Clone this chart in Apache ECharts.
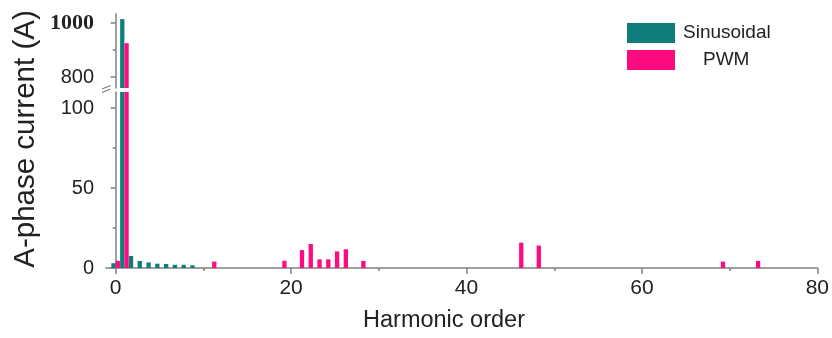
<!DOCTYPE html>
<html>
<head>
<meta charset="utf-8">
<script src="https://cdn.jsdelivr.net/npm/echarts@6/dist/echarts.min.js"></script>
<style>
  html, body { margin: 0; padding: 0; background: #fff; }
  #chart { width: 832px; height: 338px; }
</style>
</head>
<body>
<div id="chart"></div>
<script>
// Harmonic spectrum of the A-phase current, sinusoidal vs PWM supply
const sinHarmonics = [0, 1, 2, 3, 4, 5, 6, 7, 8, 9];
const sinValues    = [3, 1015, 7.5, 4.4, 3.5, 2.7, 2.5, 2, 2, 1.7];

const pwmHarmonics = [0, 1, 11, 19, 21, 22, 23, 24, 25, 26, 28, 46, 48, 69, 73];
const pwmValues    = [4.5, 926, 4, 4.5, 11.2, 15, 5.4, 5.4, 10.4, 11.7, 4.4, 15.8, 14, 4, 4.4];

const xTicks      = [0, 20, 40, 60, 80];
const xMinorTicks = [10, 30, 50, 70];
const lowerTicks      = [0, 50, 100];
const lowerMinorTicks = [25, 75];
const upperTicks      = [800, 1000];
const upperMinorTicks = [900];

const TEAL = '#0f7d79';
const PINK = '#ff0a80';
const AXIS = '#808080';
const TEXT = '#222';
const FONT = 'Liberation Sans, Arial, sans-serif';

const sinData = sinHarmonics.map((h, i) => [h, sinValues[i]]);
const pwmData = pwmHarmonics.map((h, i) => [h, pwmValues[i]]);

// layout of the two stacked panels that form the broken value axis
const LEFT = 106, RIGHT = 14.5;
const lowerGrid = { left: LEFT, right: RIGHT, top: 92, height: 176 };
const upperGrid = { left: LEFT, right: RIGHT, top: 14, height: 74 };
const X_MIN = -1.1, X_MAX = 80;

function xAxisBase(gridIndex) {
  return { type: 'value', gridIndex, min: X_MIN, max: X_MAX, splitLine: { show: false } };
}

const chart = echarts.init(document.getElementById('chart'), null, { renderer: 'canvas' });

const option = {
  animation: false,
  backgroundColor: '#fff',
  grid: [lowerGrid, upperGrid, Object.assign({}, lowerGrid), Object.assign({}, upperGrid)],
  legend: [
    {
      data: ['Sinusoidal'], left: 622, top: 18, icon: 'rect',
      itemWidth: 48, itemHeight: 20, selectedMode: false,
      textStyle: { fontSize: 19, color: TEXT, fontFamily: FONT, padding: [0, 0, 0, 3] }
    },
    {
      data: ['PWM'], left: 622, top: 45, icon: 'rect',
      itemWidth: 48, itemHeight: 20, selectedMode: false,
      textStyle: { fontSize: 19, color: TEXT, fontFamily: FONT, padding: [0, 0, 0, 23] }
    }
  ],
  xAxis: [
    Object.assign(xAxisBase(0), {
      axisLine: { show: true, lineStyle: { color: AXIS, width: 1.5 } },
      axisTick: { show: true, length: 6, inside: false, customValues: xTicks, lineStyle: { color: AXIS, width: 1.5 } },
      axisLabel: { show: true, customValues: xTicks, margin: 10, fontSize: 21, color: TEXT, fontFamily: FONT }
    }),
    Object.assign(xAxisBase(1), { show: false }),
    Object.assign(xAxisBase(2), {
      axisLine: { show: false },
      axisTick: { show: true, length: 3, customValues: xMinorTicks, lineStyle: { color: AXIS, width: 1.5 } },
      axisLabel: { show: false }
    }),
    Object.assign(xAxisBase(3), { show: false })
  ],
  yAxis: [
    {
      type: 'value', gridIndex: 0, min: 0, max: 110, splitLine: { show: false },
      axisLine: { show: true, lineStyle: { color: AXIS, width: 1.5 } },
      axisTick: { show: true, length: 5, customValues: lowerTicks, lineStyle: { color: AXIS, width: 1.5 } },
      axisLabel: { customValues: lowerTicks, margin: 12, fontSize: 20, color: TEXT, fontFamily: FONT }
    },
    {
      type: 'value', gridIndex: 1, min: 760, max: 1034, splitLine: { show: false },
      axisLine: { show: true, lineStyle: { color: AXIS, width: 1.5 } },
      axisTick: { show: true, length: 5, customValues: upperTicks, lineStyle: { color: AXIS, width: 1.5 } },
      axisLabel: {
        customValues: upperTicks, margin: 12, fontSize: 20, color: TEXT, fontFamily: FONT,
        formatter: v => (v === 1000 ? '{serif|' + v + '}' : String(v)),
        rich: { serif: { fontFamily: 'Liberation Serif, Times New Roman, serif', fontWeight: 'bold', fontSize: 22, color: TEXT } }
      }
    },
    {
      type: 'value', gridIndex: 2, min: 0, max: 110, splitLine: { show: false },
      axisLine: { show: false },
      axisTick: { show: true, length: 3, customValues: lowerMinorTicks, lineStyle: { color: AXIS, width: 1.5 } },
      axisLabel: { show: false }
    },
    {
      type: 'value', gridIndex: 3, min: 760, max: 1034, splitLine: { show: false },
      axisLine: { show: false },
      axisTick: { show: true, length: 3, customValues: upperMinorTicks, lineStyle: { color: AXIS, width: 1.5 } },
      axisLabel: { show: false }
    }
  ],
  series: [
    { name: 'Sinusoidal', type: 'bar', xAxisIndex: 0, yAxisIndex: 0, data: sinData, barWidth: 4.3, barGap: '0%', clip: true, itemStyle: { color: TEAL } },
    { name: 'PWM',        type: 'bar', xAxisIndex: 0, yAxisIndex: 0, data: pwmData, barWidth: 4.3, barGap: '0%', clip: true, itemStyle: { color: PINK } },
    { name: 'Sinusoidal', type: 'bar', xAxisIndex: 1, yAxisIndex: 1, data: sinData, barWidth: 4.3, barGap: '0%', clip: true, itemStyle: { color: TEAL } },
    { name: 'PWM',        type: 'bar', xAxisIndex: 1, yAxisIndex: 1, data: pwmData, barWidth: 4.3, barGap: '0%', clip: true, itemStyle: { color: PINK } }
  ],
  graphic: [
    // axis titles
    {
      type: 'text', x: 26, y: 139, rotation: Math.PI / 2,
      style: { text: 'A-phase current (A)', fontSize: 29.5, fontFamily: FONT, fill: TEXT, align: 'center', verticalAlign: 'middle' }
    },
    {
      type: 'text', x: 444, y: 321,
      style: { text: 'Harmonic order', fontSize: 23.5, fontFamily: FONT, fill: TEXT, align: 'center', verticalAlign: 'middle' }
    },
    // break marks on the value axis
    { type: 'line', shape: { x1: 102, y1: 89, x2: 110.5, y2: 85.5 }, style: { stroke: AXIS, lineWidth: 1.3 } },
    { type: 'line', shape: { x1: 102, y1: 92.5, x2: 110.5, y2: 89 }, style: { stroke: AXIS, lineWidth: 1.3 } }
  ]
};

chart.setOption(option);
</script>
</body>
</html>
